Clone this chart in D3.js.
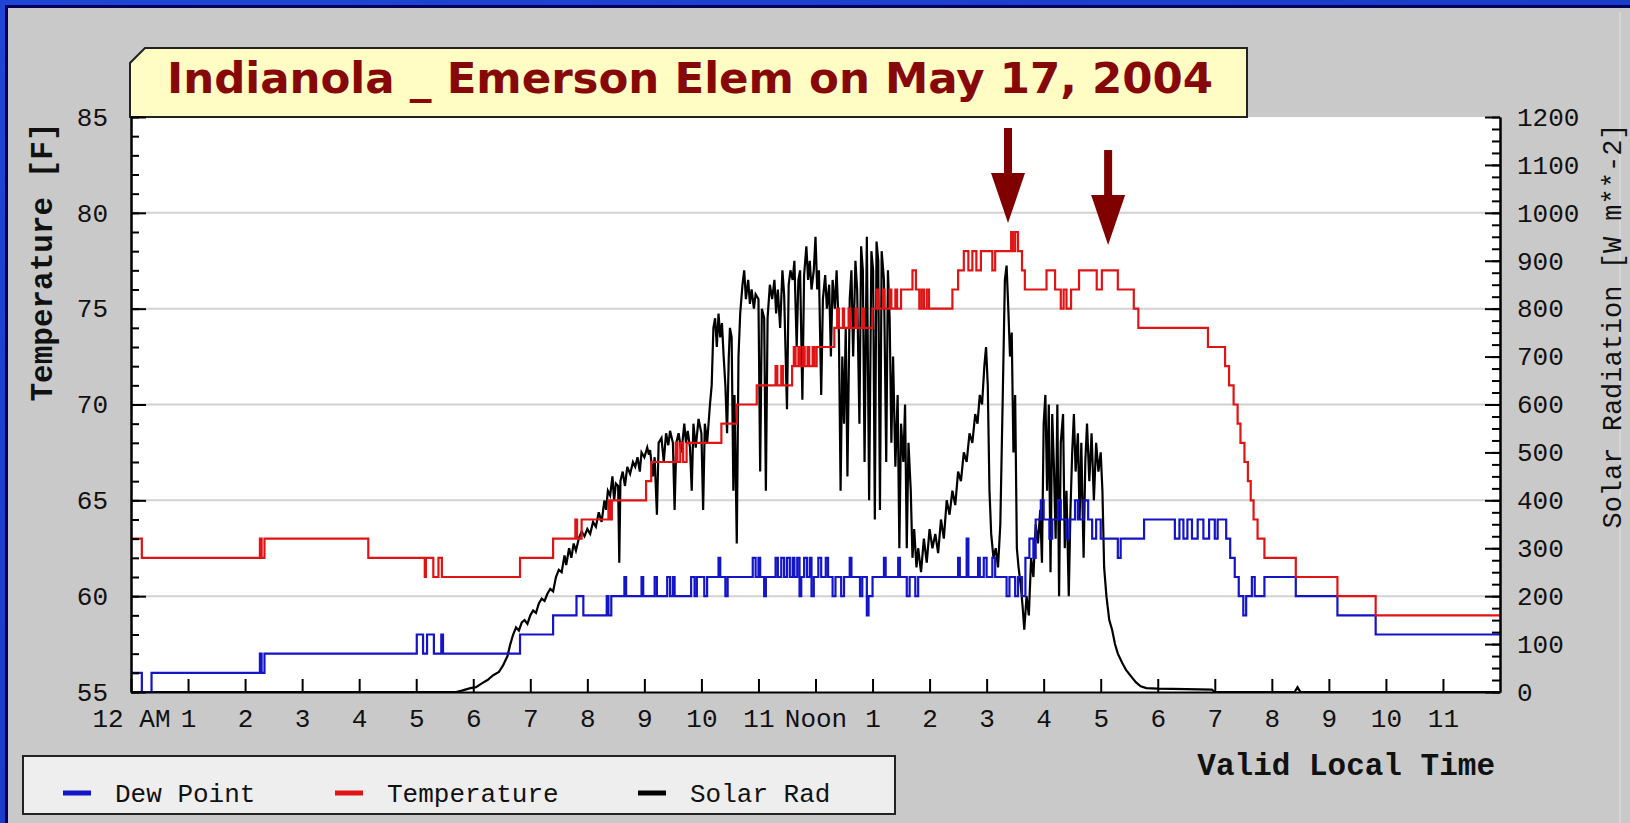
<!DOCTYPE html>
<html><head><meta charset="utf-8">
<script src="https://cdn.jsdelivr.net/npm/d3@7"></script>
<style>html,body{margin:0;padding:0;background:#c8c8c8;}svg{display:block}</style>
</head><body>
<svg id="c" width="1630" height="823"></svg>
<script>
// ---------------- DATA ----------------
const chartTitle = "Indianola _ Emerson Elem on May 17, 2004";
const xTickHours = [0,1,2,3,4,5,6,7,8,9,10,11,12,13,14,15,16,17,18,19,20,21,22,23];
const xTickLabels = ["12 AM","1","2","3","4","5","6","7","8","9","10","11","Noon","1","2","3","4","5","6","7","8","9","10","11"];
const tempTicks = [55,60,65,70,75,80,85];
const gridTemps = [60,65,70,75,80];
const solarTicks = [0,100,200,300,400,500,600,700,800,900,1000,1100,1200];
const legendNames = ["Dew Point","Temperature","Solar Rad"];

// [hour, degF] change points (step after)
const temperature = [[0,63],[0.19,62],[2.26,63],[2.29,62],[2.34,63],[4.16,62],[5.15,61],[5.17,62],[5.3,61],[5.39,62],[5.45,61],[6.82,62],[7.4,63],[7.79,64],[7.82,63],[7.9,64],[8.37,65],[8.4,64],[8.43,65],[9.03,66],[9.12,67],[9.55,68],[9.58,67],[9.63,68],[9.68,67],[9.74,68],[10.35,69],[10.62,70],[10.97,71],[11.3,72],[11.33,71],[11.4,72],[11.43,71],[11.59,72],[11.62,73],[11.65,72],[11.7,73],[11.73,72],[11.78,73],[11.81,72],[11.86,73],[11.89,72],[11.95,73],[11.98,72],[12.02,73],[12.33,74],[12.38,75],[12.41,74],[12.48,75],[12.5,74],[12.58,75],[12.61,74],[12.7,75],[12.73,74],[12.82,75],[12.85,74],[13.0,75],[13.07,76],[13.1,75],[13.18,76],[13.21,75],[13.3,76],[13.33,75],[13.4,76],[13.43,75],[13.5,76],[13.7,77],[13.76,76],[13.82,75],[13.86,76],[13.9,75],[13.95,76],[13.99,75],[14.4,76],[14.5,77],[14.6,78],[14.68,77],[14.75,78],[14.82,77],[14.9,78],[15.1,77],[15.15,78],[15.43,79],[15.46,78],[15.5,79],[15.55,78],[15.62,77],[15.67,76],[16.05,77],[16.2,76],[16.3,75],[16.35,76],[16.4,75],[16.48,76],[16.62,77],[16.93,76],[17.02,77],[17.3,76],[17.58,75],[17.66,74],[18.88,73],[19.18,72],[19.25,71],[19.33,70],[19.4,69],[19.45,68],[19.52,67],[19.58,66],[19.63,65],[19.68,64],[19.75,63],[19.87,62],[20.42,61],[21.15,60],[21.82,59],[24,59]];

const dewPoint = [[0,56],[0.19,55],[0.36,56],[2.26,57],[2.29,56],[2.34,57],[5.01,58],[5.12,57],[5.19,58],[5.31,57],[5.44,58],[5.47,57],[6.82,58],[7.4,59],[7.81,60],[7.93,59],[8.34,60],[8.37,59],[8.42,60],[8.65,61],[8.68,60],[8.95,61],[8.98,60],[9.18,61],[9.22,60],[9.4,61],[9.45,60],[9.5,61],[9.53,60],[9.82,61],[9.88,60],[9.92,61],[10.05,60],[10.1,61],[10.3,62],[10.33,61],[10.42,60],[10.46,61],[10.9,62],[10.95,61],[11.0,62],[11.03,61],[11.1,60],[11.13,61],[11.3,62],[11.34,61],[11.4,62],[11.45,61],[11.5,62],[11.55,61],[11.6,62],[11.63,61],[11.68,62],[11.72,60],[11.75,61],[11.8,62],[11.85,61],[11.9,62],[11.93,60],[11.97,61],[12.05,62],[12.1,61],[12.18,62],[12.22,61],[12.3,60],[12.35,61],[12.45,60],[12.5,61],[12.6,62],[12.63,61],[12.78,60],[12.82,61],[12.9,59],[12.93,60],[13.0,61],[13.2,62],[13.23,61],[13.45,62],[13.48,61],[13.6,60],[13.65,61],[13.75,60],[13.8,61],[14.5,62],[14.53,61],[14.65,63],[14.68,61],[14.85,62],[14.88,61],[14.95,62],[15.0,61],[15.1,62],[15.15,61],[15.35,60],[15.4,61],[15.5,60],[15.55,61],[15.62,60],[15.68,62],[15.75,63],[15.82,62],[15.86,64],[15.95,65],[16.0,64],[16.1,63],[16.15,64],[16.25,65],[16.3,64],[16.4,63],[16.45,64],[16.55,65],[16.6,64],[16.7,65],[16.78,64],[16.85,63],[16.92,64],[17.0,63],[17.3,62],[17.35,63],[17.76,64],[18.3,63],[18.38,64],[18.45,63],[18.52,64],[18.6,63],[18.7,64],[18.8,63],[18.9,64],[19.0,63],[19.05,64],[19.2,63],[19.27,62],[19.35,61],[19.42,60],[19.5,59],[19.55,60],[19.65,61],[19.7,60],[19.87,61],[20.42,60],[21.15,59],[21.82,58],[24,58]];

// [hour, W m-2]
const solarRad = [[0,0],[5.7,0],[5.8,3],[5.95,8],[6.05,10],[6.15,18],[6.25,25],[6.35,35],[6.45,42],[6.52,55],[6.6,75],[6.65,100],[6.7,120],[6.75,135],[6.8,128],[6.85,145],[6.9,150],[6.95,142],[7.0,160],[7.05,170],[7.1,165],[7.15,185],[7.2,195],[7.25,190],[7.3,205],[7.35,215],[7.4,210],[7.45,240],[7.5,255],[7.55,250],[7.6,285],[7.63,265],[7.68,300],[7.72,280],[7.76,310],[7.8,295],[7.85,320],[7.9,335],[7.95,325],[8.0,340],[8.05,330],[8.1,355],[8.15,345],[8.2,375],[8.25,355],[8.3,400],[8.33,380],[8.36,420],[8.4,410],[8.44,450],[8.47,400],[8.5,435],[8.54,430],[8.56,270],[8.58,440],[8.62,460],[8.66,430],[8.7,470],[8.75,455],[8.8,480],[8.84,470],[8.88,490],[8.92,460],[8.95,500],[9.0,490],[9.05,510],[9.08,495],[9.1,505],[9.15,450],[9.18,490],[9.22,370],[9.25,520],[9.3,530],[9.34,480],[9.38,540],[9.42,515],[9.45,545],[9.5,520],[9.53,380],[9.56,520],[9.6,540],[9.65,500],[9.7,560],[9.73,520],[9.76,545],[9.8,510],[9.83,420],[9.86,560],[9.9,510],[9.95,570],[10.0,540],[10.03,380],[10.06,560],[10.1,520],[10.15,600],[10.18,640],[10.21,760],[10.24,780],[10.27,720],[10.3,790],[10.33,740],[10.36,770],[10.39,700],[10.42,640],[10.45,540],[10.48,700],[10.5,760],[10.53,740],[10.56,420],[10.58,620],[10.62,310],[10.65,700],[10.68,790],[10.72,850],[10.75,880],[10.78,820],[10.82,860],[10.85,810],[10.88,840],[10.92,800],[10.95,830],[11.0,820],[11.03,460],[11.06,800],[11.1,780],[11.13,420],[11.16,780],[11.2,850],[11.24,820],[11.28,860],[11.31,790],[11.34,840],[11.38,760],[11.42,880],[11.45,830],[11.5,590],[11.53,850],[11.56,880],[11.6,860],[11.63,900],[11.67,720],[11.7,860],[11.73,880],[11.77,610],[11.8,870],[11.84,930],[11.87,860],[11.9,900],[11.93,840],[11.97,880],[12.0,950],[12.03,840],[12.06,880],[12.1,620],[12.13,820],[12.17,870],[12.2,800],[12.24,850],[12.27,700],[12.3,860],[12.34,800],[12.37,880],[12.41,750],[12.44,420],[12.47,700],[12.5,560],[12.53,760],[12.56,450],[12.6,820],[12.63,880],[12.66,700],[12.7,900],[12.73,840],[12.77,560],[12.8,930],[12.83,880],[12.86,480],[12.9,950],[12.94,400],[12.98,920],[13.01,880],[13.04,360],[13.07,940],[13.1,900],[13.13,380],[13.16,920],[13.2,860],[13.24,480],[13.27,880],[13.3,780],[13.33,520],[13.36,700],[13.4,470],[13.44,620],[13.47,300],[13.5,560],[13.54,480],[13.57,600],[13.6,300],[13.63,520],[13.67,420],[13.7,280],[13.73,340],[13.77,260],[13.8,300],[13.85,250],[13.9,320],[13.95,270],[14.0,340],[14.05,300],[14.1,330],[14.15,290],[14.2,360],[14.25,320],[14.3,400],[14.35,370],[14.4,420],[14.45,390],[14.5,460],[14.55,440],[14.6,500],[14.65,480],[14.7,540],[14.75,520],[14.8,580],[14.84,560],[14.88,620],[14.92,600],[14.96,680],[14.99,720],[15.02,640],[15.05,420],[15.08,330],[15.12,280],[15.16,300],[15.2,260],[15.24,350],[15.28,600],[15.32,860],[15.35,890],[15.38,800],[15.41,700],[15.44,750],[15.47,500],[15.5,620],[15.53,300],[15.56,260],[15.6,220],[15.63,180],[15.66,130],[15.7,200],[15.74,160],[15.78,280],[15.82,240],[15.86,350],[15.9,310],[15.94,380],[15.97,270],[16.0,560],[16.03,620],[16.06,420],[16.09,600],[16.12,250],[16.15,580],[16.18,470],[16.21,320],[16.24,600],[16.27,200],[16.3,520],[16.34,580],[16.37,300],[16.4,420],[16.44,200],[16.47,380],[16.5,500],[16.53,580],[16.56,460],[16.6,540],[16.63,360],[16.66,520],[16.7,280],[16.73,480],[16.76,560],[16.8,440],[16.84,540],[16.88,400],[16.92,520],[16.96,460],[17.0,500],[17.03,420],[17.06,260],[17.1,200],[17.15,150],[17.2,130],[17.25,100],[17.3,80],[17.38,60],[17.45,45],[17.55,30],[17.62,20],[17.7,12],[17.8,8],[18.0,7],[18.5,6],[18.95,5],[19.0,0],[20.4,0],[20.45,10],[20.5,0],[24,0]];

// annotation arrows: tip at [hour, degF]
const arrowTips = [[15.375,79.47],[17.13,78.32]];

// ---------------- LAYOUT ----------------
const W = 1630, H = 823;
const M = {left:131, right:1500, top:117, bottom:692};
const mono = "'Liberation Mono','DejaVu Sans Mono',monospace";
const cTemp = "#e01414", cDew = "#1414c8", cSolar = "#000000";

const svg = d3.select("#c");

// slide background
const defs = svg.append("defs");
const g1 = defs.append("linearGradient").attr("id","bg").attr("x1","0").attr("y1","0").attr("x2","1").attr("y2","1");
g1.append("stop").attr("offset","0").attr("stop-color","#1f45d6");
g1.append("stop").attr("offset","1").attr("stop-color","#1535b8");
svg.append("rect").attr("width",W).attr("height",H).attr("fill","url(#bg)");
svg.append("rect").attr("x",5).attr("y",5).attr("width",W).attr("height",H).attr("fill","#00005a");
svg.append("rect").attr("x",8).attr("y",8).attr("width",W).attr("height",H).attr("fill","#c9c9c9");
svg.append("line").attr("x1",1620).attr("x2",1620).attr("y1",12).attr("y2",H).attr("stroke","#d6d6d6").attr("stroke-width",2);

// scales
const x = d3.scaleLinear().domain([0,24]).range([M.left, M.right]);
const yT = d3.scaleLinear().domain([55,85]).range([M.bottom, M.top]);
const yS = d3.scaleLinear().domain([0,1200]).range([M.bottom, M.top]);

// plot area
svg.append("rect").attr("x",M.left).attr("y",M.top).attr("width",M.right-M.left).attr("height",M.bottom-M.top).attr("fill","#ffffff");

// title box
const tb = {x0:130, x1:1247, y0:48, y1:117, c:15};
svg.append("path")
  .attr("d",`M${tb.x0},${tb.y1}L${tb.x0},${tb.y0+tb.c}L${tb.x0+tb.c},${tb.y0}L${tb.x1},${tb.y0}L${tb.x1},${tb.y1}Z`)
  .attr("fill","#fffcc4").attr("stroke","#222").attr("stroke-width",2);
svg.append("text").attr("x",(166+1214)/2).attr("y",93).attr("text-anchor","middle")
  .attr("font-family","'DejaVu Sans',Verdana,sans-serif").attr("font-weight","bold").attr("font-size",43)
  .attr("fill","#860808").attr("textLength",1046).attr("lengthAdjust","spacingAndGlyphs")
  .text(chartTitle);

// gridlines
svg.append("g").selectAll("line").data(gridTemps).join("line")
  .attr("x1",M.left).attr("x2",M.right).attr("y1",d=>yT(d)).attr("y2",d=>yT(d))
  .attr("stroke","#d2d2d2").attr("stroke-width",2);

// series
const clip = defs.append("clipPath").attr("id","clip");
clip.append("rect").attr("x",M.left).attr("y",M.top-40).attr("width",M.right-M.left).attr("height",M.bottom-M.top+40);
const plotG = svg.append("g").attr("clip-path","url(#clip)");

const lineS = d3.line().x(d=>x(d[0])).y(d=>yS(d[1]));
const lineT = d3.line().curve(d3.curveStepAfter).x(d=>x(d[0])).y(d=>yT(d[1]));
plotG.append("path").datum(solarRad).attr("d",lineS).attr("fill","none").attr("stroke",cSolar).attr("stroke-width",2.2).attr("stroke-linejoin","miter");
plotG.append("path").datum(dewPoint).attr("d",lineT).attr("fill","none").attr("stroke",cDew).attr("stroke-width",2.2);
plotG.append("path").datum(temperature).attr("d",lineT).attr("fill","none").attr("stroke",cTemp).attr("stroke-width",2.2);

// axes
function styleAxis(g){
  g.selectAll("path.domain").attr("stroke","#000").attr("stroke-width",2);
  g.selectAll(".tick line").attr("stroke","#000").attr("stroke-width",2);
  g.selectAll("text").attr("font-family",mono).attr("font-size",26).attr("fill","#111");
}
// left minor
svg.append("g").attr("transform",`translate(${M.left},0)`)
  .call(d3.axisLeft(yT).tickValues(d3.range(55,86,1)).tickSizeInner(-8).tickSizeOuter(0).tickFormat(""))
  .call(styleAxis);
// left major
svg.append("g").attr("transform",`translate(${M.left},0)`)
  .call(d3.axisLeft(yT).tickValues(tempTicks).tickSizeInner(-15).tickSizeOuter(0).tickPadding(23).tickFormat(d3.format("d")))
  .call(styleAxis);
// right minor
svg.append("g").attr("transform",`translate(${M.right},0)`)
  .call(d3.axisRight(yS).tickValues(d3.range(0,1201,25)).tickSizeInner(-8).tickSizeOuter(0).tickFormat(""))
  .call(styleAxis);
// right major
svg.append("g").attr("transform",`translate(${M.right},0)`)
  .call(d3.axisRight(yS).tickValues(solarTicks).tickSizeInner(-15).tickSizeOuter(0).tickPadding(17).tickFormat(d3.format("d")))
  .call(styleAxis);
// bottom
svg.append("g").attr("transform",`translate(0,${M.bottom})`)
  .call(d3.axisBottom(x).tickValues(xTickHours).tickSizeInner(-13).tickSizeOuter(0).tickPadding(17).tickFormat((d,i)=>xTickLabels[i]))
  .call(styleAxis);

// axis titles
svg.append("text").attr("transform","translate(52,262) rotate(-90)").attr("text-anchor","middle")
  .attr("font-family",mono).attr("font-weight","bold").attr("font-size",31).attr("fill","#111")
  .text("Temperature [F]");
svg.append("text").attr("transform","translate(1621,326) rotate(-90)").attr("text-anchor","middle")
  .attr("font-family",mono).attr("font-size",27).attr("fill","#111")
  .text("Solar Radiation [W m**-2]");
svg.append("text").attr("x",1495).attr("y",775).attr("text-anchor","end")
  .attr("font-family",mono).attr("font-weight","bold").attr("font-size",31).attr("fill","#111")
  .text("Valid Local Time");

// arrows (annotation)
const arrowG = svg.append("g").attr("fill","#800000");
const arrowShaft = [95, 95], headLen = 50, headHalf = 17, shaftHalf = 4;
arrowTips.forEach((t,i)=>{
  const tx = x(t[0]), ty = yT(t[1]);
  const top = ty - arrowShaft[i];
  arrowG.append("rect").attr("x",tx-shaftHalf).attr("y",top).attr("width",shaftHalf*2).attr("height",arrowShaft[i]-headLen+1);
  arrowG.append("path").attr("d",`M${tx-headHalf},${ty-headLen}L${tx+headHalf},${ty-headLen}L${tx},${ty}Z`);
});

// legend
const lg = svg.append("g");
lg.append("rect").attr("x",23).attr("y",756).attr("width",872).attr("height",58)
  .attr("fill","#eeeeee").attr("stroke","#222").attr("stroke-width",2);
const legendColors = [cDew, cTemp, cSolar];
const legendX = [63, 335, 638];
legendNames.forEach((n,i)=>{
  lg.append("line").attr("x1",legendX[i]).attr("x2",legendX[i]+28).attr("y1",793).attr("y2",793)
    .attr("stroke",legendColors[i]).attr("stroke-width",5);
  lg.append("text").attr("x",legendX[i]+52).attr("y",802).attr("font-family",mono).attr("font-size",26)
    .attr("fill","#111").text(n);
});
</script>
</body></html>
